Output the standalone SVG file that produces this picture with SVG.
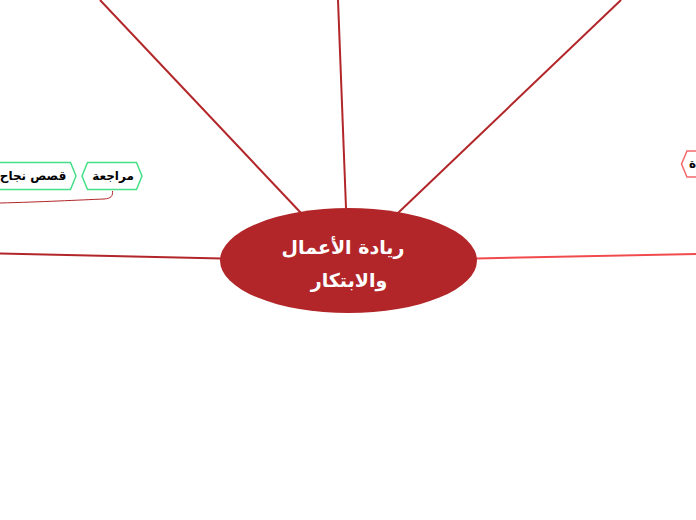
<svg xmlns="http://www.w3.org/2000/svg" width="696" height="520" viewBox="0 0 696 520">
<style>
.main{stroke:#b22629;stroke-width:2;fill:none}
.light{stroke:#f04a4d;stroke-width:2;fill:none}
.sub{stroke:#b22629;stroke-width:1;fill:none}
.hexg{fill:#ffffff;stroke:#44de86;stroke-width:1.5}
.hexr{fill:#ffffff;stroke:#f4686a;stroke-width:1.5}
.t{font-family:"DejaVu Sans","Liberation Sans",sans-serif;font-weight:bold;fill:#000;font-size:12px;text-anchor:middle}
.c{font-family:"DejaVu Sans","Liberation Sans",sans-serif;font-weight:bold;fill:#fff;font-size:19px;text-anchor:middle}
</style>
<rect width="696" height="520" fill="#ffffff"/>
<g id="connectors">
<line class="main" x1="100" y1="0" x2="301" y2="213"/>
<line class="main" x1="338" y1="0" x2="346" y2="208"/>
<line class="main" x1="621" y1="0" x2="398" y2="213"/>
<line class="main" x1="0" y1="253.5" x2="222" y2="258.5"/>
<line class="light" x1="476" y1="258.5" x2="696" y2="254"/>
<path class="sub" d="M0,203 C40,202 80,200 104,199 C111,198.5 113,196 112.5,191"/>
</g>
<g id="center">
<ellipse cx="348.5" cy="260.5" rx="128.5" ry="52.5" fill="#b22629"/>
<text class="c" x="343" y="254" direction="rtl">ريادة الأعمال</text>
<text class="c" x="349" y="287" direction="rtl">والابتكار</text>
</g>
<g id="node-review">
<polygon class="hexg" points="82,176 87.5,162.5 136.5,162.5 142,176 136.5,189.5 87.5,189.5"/>
<text class="t" x="113" y="180" direction="rtl">مراجعة</text>
</g>
<g id="node-success">
<polygon class="hexg" points="-12,176 -6.5,162.5 70.5,162.5 76,176 70.5,189.5 -6.5,189.5"/>
<text class="t" x="33" y="180" direction="rtl">قصص نجاح</text>
</g>
<g id="node-right">
<polygon class="hexr" points="681.5,164 687,151 720,151 726,164 720,177 687,177"/>
<text class="t" x="689" y="168" style="text-anchor:start">ة</text>
</g>
</svg>
